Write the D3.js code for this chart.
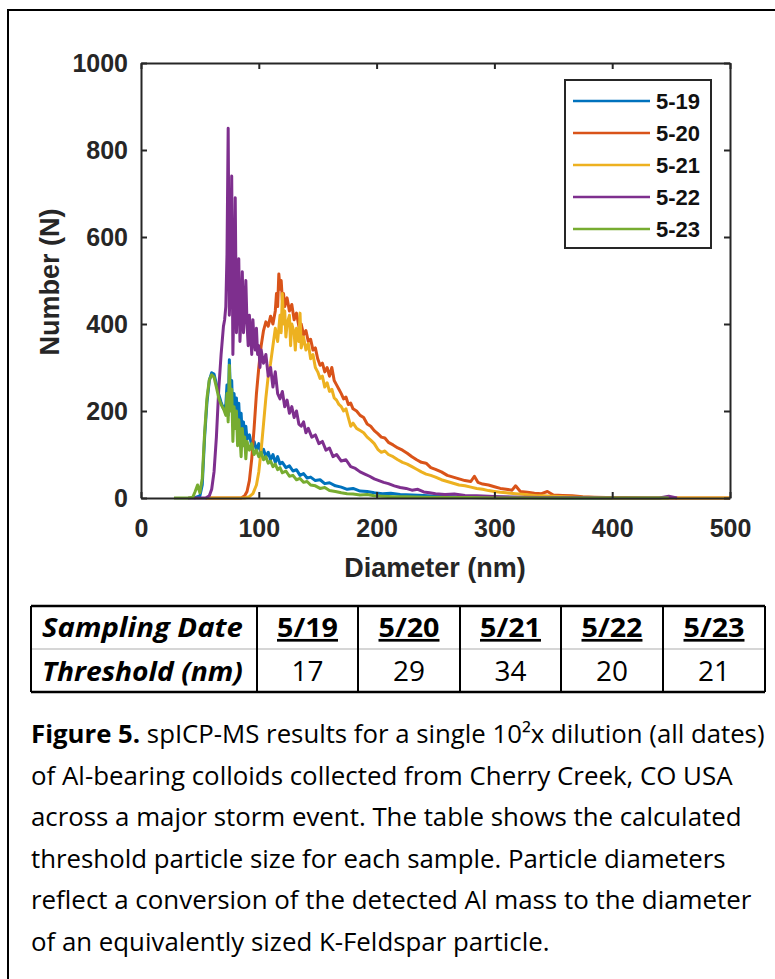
<!DOCTYPE html>
<html lang="en">
<head>
<meta charset="utf-8">
<title>spICP-MS size distributions</title>
<script src="https://d3js.org/d3.v7.min.js"></script>
<style>
  body { margin: 0; background: #fff; }
  svg { display: block; }
</style>
</head>
<body>
<div id="chart"></div>
<script>
var W = 775, H = 979;

// legend / series names and colours (MATLAB default order)
var seriesNames = ["5-19", "5-20", "5-21", "5-22", "5-23"];
var seriesColors = ["#0072BD", "#D95319", "#EDB120", "#7E2F8E", "#77AC30"];

// [diameter nm, count N]
var s0519 = [[45,0],[50,5],[52,30],[54,140],[56,220],[58,270],[60,288],[62,285],[64,262],[66,238],[68,220],[70,205],[72,215],[73,260],[74,190],[75,318],[76,230],[77,270],[78,180],[79,240],[80,200],[81,230],[82,150],[83,218],[84,160],[85,195],[86,140],[87,175],[88,125],[89,165],[90,135],[92,145],[94,120],[96,130],[98,110],[100,125],[102,100],[104,112],[106,95],[108,105],[110,88],[112,100],[114,82],[116,95],[118,78],[120,82],[123,70],[126,74],[129,62],[132,65],[135,52],[138,56],[141,46],[144,48],[148,40],[152,42],[156,33],[160,35],[165,28],[170,25],[175,20],[180,22],[186,16],[192,15],[198,12],[205,10],[212,11],[220,8],[230,7],[240,6],[250,4],[265,3],[280,2],[300,2],[330,1],[360,0],[400,0]];

var s0520 = [[55,0],[85,0],[88,5],[90,15],[92,40],[94,90],[96,160],[98,240],[100,300],[102,350],[104,385],[106,405],[108,395],[110,418],[112,400],[114,430],[115,470],[116,440],[117,515],[118,480],[119,500],[120,455],[121,470],[122,440],[124,460],[126,430],[128,445],[130,410],[132,425],[134,395],[136,400],[138,375],[140,385],[142,360],[144,365],[146,340],[148,345],[150,320],[152,305],[154,310],[156,290],[158,300],[160,280],[162,300],[164,270],[166,260],[168,250],[170,240],[172,228],[174,232],[176,215],[178,218],[180,205],[183,200],[186,190],[189,185],[192,170],[195,165],[198,155],[201,148],[204,140],[207,138],[210,128],[214,122],[218,115],[222,110],[226,103],[230,95],[234,88],[238,82],[242,80],[246,70],[250,66],[255,60],[260,52],[265,48],[270,44],[275,40],[280,38],[283,50],[286,36],[290,32],[295,30],[300,26],[305,22],[310,20],[315,18],[318,28],[322,15],[328,13],[334,11],[340,10],[345,15],[350,7],[358,6],[366,5],[375,3],[385,2],[395,1],[410,1],[430,0],[500,0]];

var s0521 = [[55,0],[88,0],[92,3],[95,10],[98,30],[100,60],[102,110],[104,170],[106,230],[108,280],[110,310],[112,350],[114,390],[116,360],[118,420],[119,380],[120,470],[121,400],[122,430],[123,370],[124,400],[126,420],[127,350],[128,400],[130,380],[131,340],[132,390],[134,360],[135,425],[136,345],[138,370],[140,340],[142,355],[144,320],[146,330],[148,300],[150,290],[152,275],[154,280],[156,255],[158,265],[160,245],[162,250],[164,230],[166,225],[168,215],[170,210],[172,200],[174,205],[176,185],[178,165],[180,172],[183,160],[186,155],[189,150],[192,140],[195,133],[198,125],[201,112],[204,105],[207,108],[210,100],[214,95],[218,88],[222,82],[226,78],[230,72],[234,66],[238,60],[242,55],[246,52],[250,48],[255,42],[260,38],[265,34],[270,30],[275,28],[280,25],[285,22],[290,20],[295,17],[300,15],[305,13],[310,12],[318,10],[326,8],[334,6],[342,5],[350,4],[360,3],[370,2],[385,1],[400,0],[500,0]];

var s0522 = [[40,0],[55,0],[58,5],[60,20],[62,60],[64,140],[66,250],[68,330],[70,395],[71,410],[72,440],[73,560],[74,850],[75,420],[76,500],[77,740],[78,330],[79,470],[80,690],[81,380],[82,450],[83,550],[84,360],[85,420],[86,520],[87,380],[88,430],[89,500],[90,400],[91,350],[92,420],[93,380],[94,330],[95,410],[96,360],[97,340],[98,390],[99,330],[100,350],[101,300],[102,340],[104,310],[106,330],[108,280],[110,300],[112,255],[114,290],[116,240],[118,228],[120,245],[122,210],[124,225],[126,195],[128,210],[130,185],[132,200],[134,170],[136,165],[138,175],[140,150],[142,160],[145,140],[148,145],[151,125],[154,130],[157,110],[160,115],[163,95],[166,100],[170,85],[174,88],[178,72],[182,68],[186,60],[190,55],[194,50],[198,44],[202,40],[206,36],[210,33],[215,28],[220,24],[225,22],[230,18],[235,20],[240,14],[245,12],[250,10],[258,8],[266,9],[275,6],[285,5],[295,4],[305,3],[320,2],[340,1],[370,1],[400,0],[440,0],[448,4],[452,2],[455,0]];

var s0523 = [[28,0],[40,0],[44,2],[46,15],[48,30],[50,12],[52,45],[54,150],[56,230],[58,272],[60,283],[62,278],[64,255],[66,230],[68,215],[70,205],[72,190],[73,240],[74,175],[75,305],[76,200],[77,250],[78,130],[79,210],[80,160],[81,200],[82,120],[83,180],[84,140],[85,95],[86,160],[87,120],[88,140],[89,90],[90,130],[92,110],[94,125],[96,100],[98,110],[100,95],[102,105],[104,88],[106,95],[108,80],[110,85],[112,72],[114,78],[116,65],[118,70],[120,58],[123,62],[126,50],[129,52],[132,42],[135,45],[138,36],[141,38],[144,30],[148,28],[152,22],[156,24],[160,17],[165,15],[170,12],[175,10],[180,9],[186,7],[192,8],[198,5],[205,4],[215,3],[225,3],[240,2],[260,1],[280,1],[300,0],[350,0],[400,0],[448,0]];

var seriesData = [s0519, s0520, s0521, s0522, s0523];

var xTicks = [0, 100, 200, 300, 400, 500];
var yTicks = [0, 200, 400, 600, 800, 1000];

// table under the chart
var tableHead = ["Sampling Date", "5/19", "5/20", "5/21", "5/22", "5/23"];
var tableRow = ["Threshold (nm)", "17", "29", "34", "20", "21"];

// caption lines
var captionLines = [
  "spICP-MS results for a single 10\u00B2x dilution (all dates)",
  "of Al-bearing colloids collected from Cherry Creek, CO USA",
  "across a major storm event. The table shows the calculated",
  "threshold particle size for each sample. Particle diameters",
  "reflect a conversion of the detected Al mass to the diameter",
  "of an equivalently sized K-Feldspar particle."
];
var captionWidths = [734, 702, 711, 695, 721, 519];

var svg = d3.select("#chart").append("svg")
  .attr("width", W).attr("height", H);

svg.append("rect").attr("width", W).attr("height", H).attr("fill", "#fff");

// frame of the figure (only left and top edges are in view)
svg.append("path")
  .attr("d", "M8," + H + "V10H" + W)
  .attr("fill", "none").attr("stroke", "#000").attr("stroke-width", 2);

var x = d3.scaleLinear().domain([0, 500]).range([141, 730]);
var y = d3.scaleLinear().domain([0, 1000]).range([498, 63]);

var axisColor = "#262626";
var tickFont = "'Liberation Sans', Arial, sans-serif";
var fmt = d3.format("d");

// lines
var line = d3.line()
  .x(function(d){ return x(d[0]); })
  .y(function(d){ return y(d[1]); });

svg.append("g").selectAll("path")
  .data(seriesData)
  .enter().append("path")
  .attr("d", line)
  .attr("fill", "none")
  .attr("stroke", function(d, i){ return seriesColors[i]; })
  .attr("stroke-width", 3)
  .attr("stroke-linejoin", "round");

function styleAxis(g){
  g.select(".domain").attr("stroke", axisColor).attr("stroke-width", 2);
  g.selectAll(".tick line").attr("stroke", axisColor).attr("stroke-width", 2);
  g.selectAll(".tick text")
    .attr("fill", axisColor)
    .attr("font-family", tickFont)
    .attr("font-weight", "bold")
    .attr("font-size", 25);
}

svg.append("g").attr("transform", "translate(0,498)")
  .call(d3.axisBottom(x).tickValues(xTicks).tickFormat(fmt).tickSizeInner(-6).tickSizeOuter(0).tickPadding(21))
  .call(styleAxis);
svg.append("g").attr("transform", "translate(0,63)")
  .call(d3.axisTop(x).tickValues(xTicks).tickSizeInner(-6).tickSizeOuter(0).tickFormat(""))
  .call(styleAxis);
svg.append("g").attr("transform", "translate(141,0)")
  .call(d3.axisLeft(y).tickValues(yTicks).tickFormat(fmt).tickSizeInner(-6).tickSizeOuter(0).tickPadding(13))
  .call(styleAxis);
svg.append("g").attr("transform", "translate(730,0)")
  .call(d3.axisRight(y).tickValues(yTicks).tickSizeInner(-6).tickSizeOuter(0).tickFormat(""))
  .call(styleAxis);

// axis titles
svg.append("text")
  .attr("x", 435).attr("y", 577)
  .attr("text-anchor", "middle")
  .attr("font-family", tickFont).attr("font-weight", "bold").attr("font-size", 27)
  .attr("fill", axisColor)
  .text("Diameter (nm)");

svg.append("text")
  .attr("transform", "translate(59,282) rotate(-90)")
  .attr("text-anchor", "middle")
  .attr("font-family", tickFont).attr("font-weight", "bold").attr("font-size", 27)
  .attr("fill", axisColor)
  .text("Number (N)");

// legend
var legend = svg.append("g");
legend.append("rect")
  .attr("x", 565).attr("y", 80).attr("width", 146).attr("height", 168)
  .attr("fill", "#fff").attr("stroke", axisColor).attr("stroke-width", 2);
var legItems = legend.selectAll("g.item")
  .data(seriesNames)
  .enter().append("g")
  .attr("class", "item")
  .attr("transform", function(d, i){ return "translate(0," + (101 + i * 32) + ")"; });
legItems.append("line")
  .attr("x1", 573).attr("x2", 650)
  .attr("stroke", function(d, i){ return seriesColors[i]; })
  .attr("stroke-width", 2.5);
legItems.append("text")
  .attr("x", 656).attr("dy", "0.36em")
  .attr("font-family", tickFont).attr("font-weight", "bold").attr("font-size", 22)
  .attr("fill", "#111")
  .text(function(d){ return d; });

// squeeze a text element to a given width (stands in for Calibri)
function fitWidth(t, w, cx){
  var bw = t.node().getBBox().width;
  var s = w / bw;
  t.attr("transform", "translate(" + cx + ",0) scale(" + s + ",1) translate(" + (-cx) + ",0)");
}

var bodyFont = "'Open Sans', 'Noto Sans', sans-serif";

// table
var colX = [31, 257, 358, 460, 561, 663, 765];
var rowY = [606, 649, 692];
var tbl = svg.append("g");

[0, 2].forEach(function(i){
  tbl.append("line").attr("x1", colX[0]).attr("x2", colX[6])
    .attr("y1", rowY[i]).attr("y2", rowY[i])
    .attr("stroke", "#000").attr("stroke-width", 2.5);
});
tbl.append("line").attr("x1", colX[0]).attr("x2", colX[6])
  .attr("y1", rowY[1]).attr("y2", rowY[1])
  .attr("stroke", "#c8c8c8").attr("stroke-width", 1.5);
colX.forEach(function(cx){
  tbl.append("line").attr("x1", cx).attr("x2", cx)
    .attr("y1", rowY[0]).attr("y2", rowY[2])
    .attr("stroke", "#000").attr("stroke-width", 2);
});

tableHead.forEach(function(txt, i){
  var t = tbl.append("text")
    .attr("font-family", bodyFont).attr("font-size", 27).attr("font-weight", "bold")
    .attr("fill", "#000")
    .attr("y", 637)
    .text(txt);
  if (i === 0) {
    t.attr("font-style", "italic").attr("x", 42);
    fitWidth(t, 201, 42);
  } else {
    var cx = (colX[i] + colX[i + 1]) / 2;
    t.attr("x", cx).attr("text-anchor", "middle").attr("text-decoration", "underline");
    fitWidth(t, 61, cx);
  }
});

tableRow.forEach(function(txt, i){
  var t = tbl.append("text")
    .attr("font-family", bodyFont).attr("font-size", 27)
    .attr("fill", "#000")
    .attr("y", 681)
    .text(txt);
  if (i === 0) {
    t.attr("font-style", "italic").attr("font-weight", "bold").attr("x", 42);
    fitWidth(t, 201, 42);
  } else {
    var cx = (colX[i] + colX[i + 1]) / 2;
    t.attr("x", cx).attr("text-anchor", "middle");
    fitWidth(t, 32, cx);
  }
});

// caption
var cap = svg.append("g");
captionLines.forEach(function(txt, i){
  var t = cap.append("text")
    .attr("x", 31).attr("y", 743 + i * 41.6)
    .attr("font-family", bodyFont).attr("font-size", 25)
    .attr("fill", "#000");
  if (i === 0) {
    t.append("tspan").attr("font-weight", "bold").text("Figure 5.");
    t.append("tspan").text(" " + txt);
  } else {
    t.text(txt);
  }
  fitWidth(t, captionWidths[i], 31);
});
</script>
</body>
</html>
